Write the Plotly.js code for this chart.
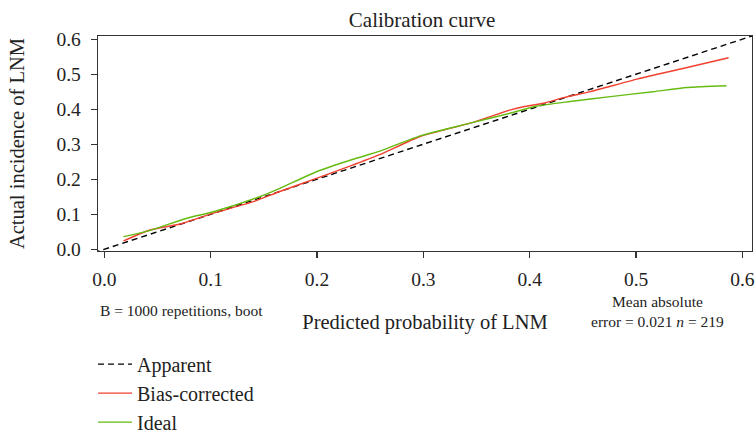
<!DOCTYPE html>
<html>
<head>
<meta charset="utf-8">
<script src="https://cdn.plot.ly/plotly-3.0.1.min.js"></script>
<style>html,body{margin:0;padding:0;background:#fff;}#chart{width:755px;height:434px;}</style>
</head>
<body>
<div id="chart"></div>
<script>
// Apparent (dashed diagonal)
var apparentX = [-0.01, 0.62];
var apparentY = [-0.01, 0.62];
// Bias-corrected (red)
var biasX = [0.018, 0.043, 0.071, 0.1025, 0.140, 0.165, 0.200, 0.234, 0.259, 0.297, 0.344, 0.382, 0.394, 0.413, 0.432, 0.457, 0.501, 0.545, 0.587];
var biasY = [0.024, 0.055, 0.072, 0.103, 0.136, 0.165, 0.203, 0.241, 0.270, 0.322, 0.360, 0.398, 0.407, 0.417, 0.433, 0.450, 0.486, 0.517, 0.547];
// Ideal (green)
var idealX = [0.018, 0.043, 0.0775, 0.1025, 0.146, 0.165, 0.200, 0.234, 0.259, 0.297, 0.344, 0.382, 0.407, 0.438, 0.476, 0.516, 0.548, 0.585];
var idealY = [0.036, 0.054, 0.0886, 0.107, 0.150, 0.174, 0.222, 0.257, 0.280, 0.324, 0.360, 0.389, 0.409, 0.422, 0.436, 0.450, 0.462, 0.467];
var tickVals = [0.0, 0.1, 0.2, 0.3, 0.4, 0.5, 0.6];
var tickText = ["0.0", "0.1", "0.2", "0.3", "0.4", "0.5", "0.6"];

var serif = "Liberation Serif, DejaVu Serif, serif";
var txt = "#222";

var traces = [
  {x: apparentX, y: apparentY, mode: "lines", name: "Apparent", legendgroup: "a",
   line: {color: "#000", width: 1.4, dash: "6px,4px"}},
  {x: biasX, y: biasY, mode: "lines", name: "Bias-corrected", legendgroup: "b",
   line: {color: "#f0402f", width: 1.4, shape: "spline", smoothing: 0.6}},
  {x: idealX, y: idealY, mode: "lines", name: "Ideal", legendgroup: "c",
   line: {color: "#66bb11", width: 1.4, shape: "spline", smoothing: 0.6}}
];

var layout = {
  width: 755, height: 434,
  margin: {l: 98, r: 3, t: 36, b: 183},
  paper_bgcolor: "#fff", plot_bgcolor: "#fff",
  font: {family: serif, color: txt, size: 20},
  title: {text: "Calibration curve", x: 0.559, xanchor: "center", y: 0.955, yanchor: "middle",
          font: {family: serif, size: 21, color: txt}},
  xaxis: {range: [-0.006, 0.609], tickvals: tickVals, ticktext: tickText,
          showgrid: false, zeroline: false, showline: true, mirror: true, automargin: false,
          linecolor: "#333", linewidth: 1.3, ticks: "outside", ticklen: 6, tickwidth: 1.3,
          tickcolor: "#333", ticklabelstandoff: 4, tickfont: {family: serif, size: 19.5, color: txt},
          title: {text: "Predicted probability of LNM", standoff: 26,
                  font: {family: serif, size: 20.5, color: txt}}},
  yaxis: {range: [-0.005, 0.609], tickvals: tickVals, ticktext: tickText,
          showgrid: false, zeroline: false, showline: true, mirror: true, automargin: false,
          linecolor: "#333", linewidth: 1.3, ticks: "outside", ticklen: 6, tickwidth: 1.3,
          tickcolor: "#333", ticklabelstandoff: 6, tickfont: {family: serif, size: 19.5, color: txt},
          title: {text: "Actual incidence of LNM", standoff: 26,
                  font: {family: serif, size: 20.5, color: txt}}},
  showlegend: true,
  legend: {x: -0.0076, xanchor: "left", xref: "paper", y: 0.206, yref: "container", yanchor: "top",
           orientation: "v", itemwidth: 34,
           tracegroupgap: 0, bgcolor: "rgba(0,0,0,0)", borderwidth: 0,
           font: {family: serif, size: 20, color: txt}},
  annotations: [
    {xref: "paper", yref: "paper", x: 0, xanchor: "left", y: -0.279, yanchor: "middle",
     text: "B = 1000 repetitions, boot", showarrow: false,
     font: {family: serif, size: 15.5, color: txt}},
    {xref: "paper", yref: "paper", x: 0.856, xanchor: "center", y: -0.236, yanchor: "middle",
     text: "Mean absolute", showarrow: false,
     font: {family: serif, size: 15.5, color: txt}},
    {xref: "paper", yref: "paper", x: 0.856, xanchor: "center", y: -0.329, yanchor: "middle",
     text: "error = 0.021 <i>n</i> = 219", showarrow: false,
     font: {family: serif, size: 15.5, color: txt}}
  ]
};

Plotly.newPlot("chart", traces, layout, {displayModeBar: false, staticPlot: true});
</script>
</body>
</html>
